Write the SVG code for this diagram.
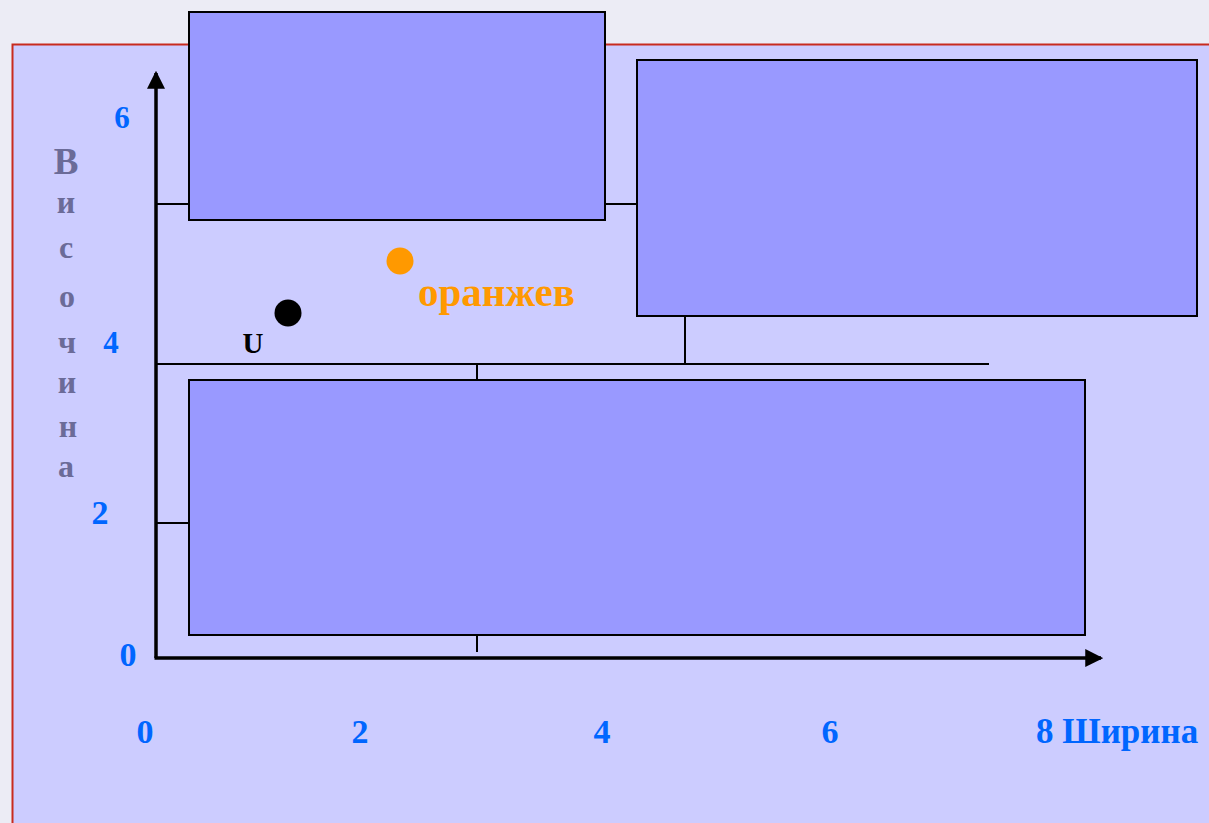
<svg xmlns="http://www.w3.org/2000/svg" width="1209" height="823" viewBox="0 0 1209 823">
<defs>
<style>
.box{fill:#9999FF;stroke:#000;stroke-width:2}
.ln{stroke:#000;stroke-width:2;fill:none}
.ax{stroke:#000;stroke-width:3.5;fill:none}
.num{font-family:"Liberation Serif",serif;font-weight:bold;fill:#0066FF;text-anchor:middle}
.vl{font-family:"Liberation Serif",serif;font-weight:bold;fill:#6B6B98;text-anchor:middle}
</style>
<marker id="arr" viewBox="0 0 16 16" refX="14" refY="8" markerWidth="18" markerHeight="18" markerUnits="userSpaceOnUse" orient="auto">
<path d="M0,0 L16,8 L0,16 Z" fill="#000"/>
</marker>
</defs>
<rect x="0" y="0" width="1209" height="823" fill="#ECECF5"/>
<rect id="panel" x="12.5" y="44.5" width="1210" height="800" fill="#CCCCFF" stroke="#C82A1E" stroke-width="2"/>

<g id="connectors">
<line class="ln" x1="156" y1="204" x2="189" y2="204"/>
<line class="ln" x1="605" y1="204" x2="637" y2="204"/>
<line class="ln" x1="156" y1="364" x2="989" y2="364"/>
<line class="ln" x1="477" y1="364" x2="477" y2="380"/>
<line class="ln" x1="685" y1="316" x2="685" y2="364"/>
<line class="ln" x1="156" y1="523" x2="189" y2="523"/>
<line class="ln" x1="477" y1="635" x2="477" y2="652"/>
</g>

<g id="axes">
<line class="ax" x1="156" y1="658" x2="156" y2="73" marker-end="url(#arr)"/>
<line class="ax" x1="154.5" y1="658" x2="1101" y2="658" marker-end="url(#arr)"/>
</g>

<g id="box1"><rect class="box" x="189" y="12" width="416" height="208"/></g>
<g id="box2"><rect class="box" x="637" y="60" width="560" height="256"/></g>
<g id="box3"><rect class="box" x="189" y="380" width="896" height="255"/></g>

<g id="point-u">
<circle cx="288" cy="313" r="13.5" fill="#000"/>
<text x="253" y="353" font-family="Liberation Serif,serif" font-weight="bold" font-size="29" text-anchor="middle" fill="#000">U</text>
</g>
<g id="point-orange">
<circle cx="400" cy="261" r="13.5" fill="#FF9900"/>
<text x="418" y="306" font-family="Liberation Serif,serif" font-weight="bold" font-size="41" fill="#FF9900">оранжев</text>
</g>

<g id="y-ticks">
<text class="num" x="122" y="128" font-size="31">6</text>
<text class="num" x="111" y="353" font-size="31">4</text>
<text class="num" x="100" y="524" font-size="34">2</text>
<text class="num" x="128" y="666" font-size="34">0</text>
</g>
<g id="x-ticks">
<text class="num" x="145" y="743" font-size="34">0</text>
<text class="num" x="360" y="743" font-size="34">2</text>
<text class="num" x="602" y="743" font-size="34">4</text>
<text class="num" x="830" y="743" font-size="34">6</text>
<text class="num" x="1036" y="743" font-size="35" style="text-anchor:start">8 Ширина</text>
</g>
<g id="y-label">
<text class="vl" x="66" y="174" font-size="37">В</text>
<text class="vl" x="66" y="213" font-size="32">и</text>
<text class="vl" x="66" y="258" font-size="32">с</text>
<text class="vl" x="67" y="307" font-size="32">о</text>
<text class="vl" x="67" y="353" font-size="32">ч</text>
<text class="vl" x="67" y="393" font-size="32">и</text>
<text class="vl" x="68" y="437" font-size="32">н</text>
<text class="vl" x="66" y="477" font-size="32">а</text>
</g>
</svg>
